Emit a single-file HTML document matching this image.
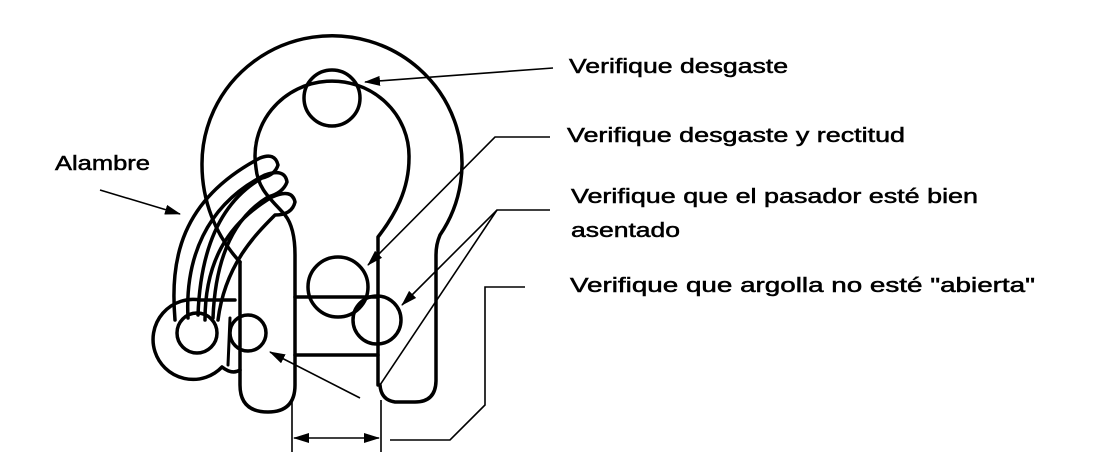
<!DOCTYPE html>
<html><head><meta charset="utf-8"><style>
html,body{margin:0;padding:0;background:#fff;}
svg{display:block;}
text{font-family:"Liberation Sans",Arial,sans-serif;font-size:20px;fill:#000;stroke:#000;stroke-width:0.5;}
</style></head><body>
<svg width="1118" height="467" viewBox="0 0 1118 467" xmlns="http://www.w3.org/2000/svg">
<defs>
<marker id="ah" markerWidth="16" markerHeight="10" refX="15" refY="5" orient="auto-start-reverse" markerUnits="userSpaceOnUse">
<path d="M0,0 L16,5 L0,10 Z" fill="#000"/></marker>
</defs>
<g fill="none" stroke="#000" stroke-width="3.5" stroke-linecap="round" stroke-linejoin="round">
<path d="M240,262 C215,235 202,200 202,165 A130,128 0 1 1 440,235 C437,242 436,248 436,255 L436,380 Q436,402 415,402 L395,402 Q381,400 380,385"/>
<path d="M378,385 L378,237 C395,215 409,190 409,158 A77,75 0 1 0 256,168 C258,190 272,200 285,215 C293,225 295,240 295,255 L295,385 Q295,412 268,412 Q240,412 240,385 L240,262"/>
<path d="M295,297 L378,297 M295,355 L378,355"/>
<circle cx="332" cy="98" r="28"/>
<circle cx="338" cy="287" r="30"/>
<circle cx="377" cy="320" r="24"/>
<circle cx="248" cy="333" r="18"/>
<circle cx="197" cy="333" r="20"/>
<path d="M200,300 A40,40 0 1 0 222,367 Q232,375 240,370 M200,300 L235,300"/>
<path d="M230,318 L228,365" stroke-width="3"/>
<path d="M175,320 C170,260 180,200 260,158 Q275,152 278,165 Q275,175 262,178 C215,205 200,260 198,315"/>
<path d="M188,318 C185,260 205,205 265,175 Q285,168 287,182 Q283,193 268,197 C230,220 215,265 213,318"/>
<path d="M205,320 C205,265 225,225 272,197 Q292,188 295,202 Q292,215 275,215 C255,235 225,265 218,320"/>
</g>
<g fill="none" stroke="#000" stroke-width="1.6">
<path d="M553,68 L365,82" marker-end="url(#ah)"/>
<path d="M550,137 L495,137 L368,265" marker-end="url(#ah)"/>
<path d="M550,210 L497,210 L402,305" marker-end="url(#ah)"/>
<path d="M497,210 L380,385"/>
<path d="M360,398 L270,352" marker-end="url(#ah)"/>
<path d="M100,190 L180,214" marker-end="url(#ah)"/>
<path d="M292,400 L292,452 M381,400 L381,452"/>
<path d="M294,438 L379,438" marker-start="url(#ah)" marker-end="url(#ah)"/>
<path d="M390,440 L450,440 L485,405 L485,287 L525,287"/>
</g>
<text x="569" y="73" textLength="219" lengthAdjust="spacingAndGlyphs">Verifique desgaste</text>
<text x="567" y="142" textLength="338" lengthAdjust="spacingAndGlyphs">Verifique desgaste y rectitud</text>
<text x="571" y="203" textLength="407" lengthAdjust="spacingAndGlyphs">Verifique que el pasador esté bien</text>
<text x="571" y="237" textLength="109" lengthAdjust="spacingAndGlyphs">asentado</text>
<text x="570" y="292" textLength="465" lengthAdjust="spacingAndGlyphs">Verifique que argolla no esté "abierta"</text>
<text x="55" y="170" textLength="95" lengthAdjust="spacingAndGlyphs">Alambre</text>
</svg>
</body></html>
